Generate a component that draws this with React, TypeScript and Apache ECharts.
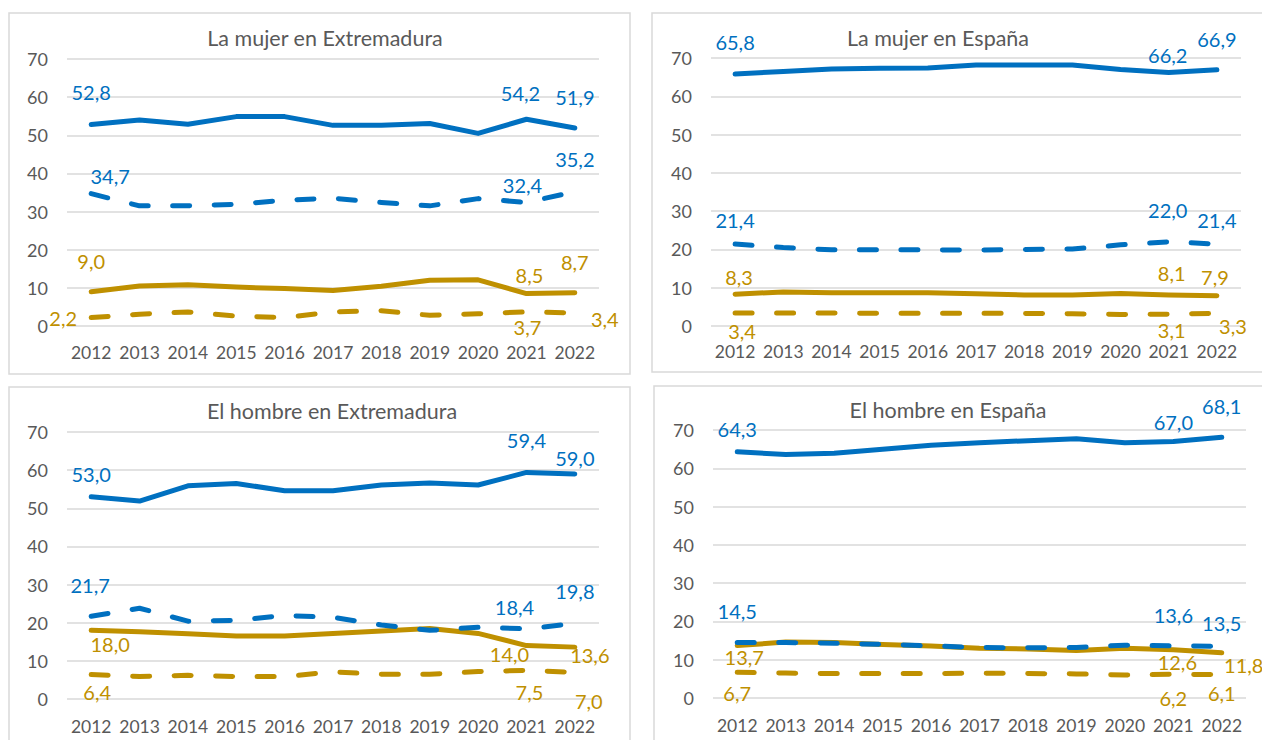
import React, { useEffect, useRef } from "react";
import * as echarts from "echarts";

// Categories
const years = ["2012", "2013", "2014", "2015", "2016", "2017", "2018", "2019", "2020", "2021", "2022"];
const yTicks = [0, 10, 20, 30, 40, 50, 60, 70];

// La mujer en Extremadura
const mujerExtAzulContinua = [52.8, 54.0, 52.9, 54.9, 54.9, 52.6, 52.6, 53.1, 50.5, 54.2, 51.9];
const mujerExtAzulDiscontinua = [34.7, 31.5, 31.5, 31.9, 33.0, 33.5, 32.4, 31.5, 33.4, 32.4, 35.2];
const mujerExtOroContinua = [9.0, 10.5, 10.8, 10.2, 9.8, 9.3, 10.4, 12.0, 12.1, 8.5, 8.7];
const mujerExtOroDiscontinua = [2.2, 3.1, 3.7, 2.6, 2.2, 3.7, 4.0, 2.8, 3.2, 3.7, 3.4];

// La mujer en España
const mujerEspAzulContinua = [65.8, 66.5, 67.1, 67.3, 67.4, 68.2, 68.2, 68.2, 67.0, 66.2, 66.9];
const mujerEspAzulDiscontinua = [21.4, 20.5, 19.9, 19.9, 19.9, 19.8, 20.0, 20.1, 21.2, 22.0, 21.4];
const mujerEspOroContinua = [8.3, 8.9, 8.7, 8.7, 8.7, 8.4, 8.1, 8.1, 8.5, 8.1, 7.9];
const mujerEspOroDiscontinua = [3.4, 3.4, 3.4, 3.3, 3.3, 3.3, 3.3, 3.2, 3.0, 3.1, 3.3];

// El hombre en Extremadura
const hombreExtAzulContinua = [53.0, 51.9, 55.9, 56.5, 54.6, 54.6, 56.1, 56.6, 56.1, 59.4, 59.0];
const hombreExtAzulDiscontinua = [21.7, 23.8, 20.4, 20.6, 21.9, 21.4, 19.4, 18.0, 18.8, 18.4, 19.8];
const hombreExtOroContinua = [18.0, 17.6, 17.1, 16.5, 16.5, 17.2, 17.8, 18.5, 17.2, 14.0, 13.6];
const hombreExtOroDiscontinua = [6.4, 5.9, 6.2, 5.9, 5.9, 7.1, 6.5, 6.5, 7.2, 7.5, 7.0];

// El hombre en España
const hombreEspAzulContinua = [64.3, 63.6, 63.9, 65.0, 66.0, 66.7, 67.2, 67.7, 66.7, 67.0, 68.1];
const hombreEspAzulDiscontinua = [14.5, 14.5, 14.3, 14.0, 13.6, 13.2, 13.1, 13.2, 13.8, 13.6, 13.5];
const hombreEspOroContinua = [13.7, 14.6, 14.5, 14.0, 13.6, 13.0, 12.8, 12.4, 13.0, 12.6, 11.8];
const hombreEspOroDiscontinua = [6.7, 6.5, 6.4, 6.4, 6.4, 6.5, 6.4, 6.3, 6.0, 6.2, 6.1];

const BLUE = "#0070C0";
const GOLD = "#BF9000";
const GREY = "#595959";
const GRID = "#D9D9D9";
const FONT = "Lato";

type LabelSpec = [number, number, number]; // index, dx, dy

interface PanelCfg {
  title: string;
  titleX: number;
  titleY: number;
  grid: { left: number; top: number; width: number; height: number };
  box: { x: number; y: number; w: number; h: number };
  xMargin: number;
  series: { values: number[]; color: string; dashed: boolean; labels: LabelSpec[] }[];
}

const panels: PanelCfg[] = [
  {
    title: "La mujer en Extremadura",
    titleX: 320,
    titleY: 33,
    grid: { left: 67, top: 59, width: 532, height: 267 },
    box: { x: 9, y: 13, w: 621, h: 361 },
    xMargin: 17,
    series: [
      { values: mujerExtOroDiscontinua, color: GOLD, dashed: true, labels: [[0, -28, 0], [9, 1, 15], [10, 30, 6]] },
      { values: mujerExtOroContinua, color: GOLD, dashed: false, labels: [[0, 0, -31], [9, 3, -19], [10, 0, -31]] },
      { values: mujerExtAzulDiscontinua, color: BLUE, dashed: true, labels: [[0, 19, -18], [9, -4, -17], [10, 0, -33]] },
      { values: mujerExtAzulContinua, color: BLUE, dashed: false, labels: [[0, 0, -33], [9, -6, -26], [10, 0, -31]] },
    ],
  },
  {
    title: "La mujer en España",
    titleX: 933,
    titleY: 33,
    grid: { left: 711, top: 58, width: 530, height: 268 },
    box: { x: 652, y: 13, w: 640, h: 359 },
    xMargin: 16,
    series: [
      { values: mujerEspOroDiscontinua, color: GOLD, dashed: true, labels: [[0, 7, 18], [9, 3, 16], [10, 16, 13]] },
      { values: mujerEspOroContinua, color: GOLD, dashed: false, labels: [[0, 4, -17], [9, 3, -22], [10, -2, -19]] },
      { values: mujerEspAzulDiscontinua, color: BLUE, dashed: true, labels: [[0, 0, -24], [9, -1, -32], [10, 0, -24]] },
      { values: mujerEspAzulContinua, color: BLUE, dashed: false, labels: [[0, 0, -32], [9, -1, -18], [10, 0, -31]] },
    ],
  },
  {
    title: "El hombre en Extremadura",
    titleX: 327,
    titleY: 406,
    grid: { left: 67, top: 432, width: 532, height: 267 },
    box: { x: 9, y: 387, w: 621, h: 400 },
    xMargin: 18,
    series: [
      { values: hombreExtOroDiscontinua, color: GOLD, dashed: true, labels: [[0, 6, 17], [9, 3, 22], [10, 14, 29]] },
      { values: hombreExtOroContinua, color: GOLD, dashed: false, labels: [[0, 19, 14], [9, -17, 8], [10, 15, 8]] },
      { values: hombreExtAzulDiscontinua, color: BLUE, dashed: true, labels: [[0, -1, -31], [9, -12, -22], [10, 0, -32]] },
      { values: hombreExtAzulContinua, color: BLUE, dashed: false, labels: [[0, 0, -23], [9, 0, -32], [10, 0, -16]] },
    ],
  },
  {
    title: "El hombre en España",
    titleX: 943,
    titleY: 405,
    grid: { left: 713, top: 430, width: 533, height: 268 },
    box: { x: 654, y: 386, w: 640, h: 400 },
    xMargin: 18,
    series: [
      { values: hombreEspOroDiscontinua, color: GOLD, dashed: true, labels: [[0, 0, 21], [9, 0, 24], [10, 0, 18]] },
      { values: hombreEspOroContinua, color: GOLD, dashed: false, labels: [[0, 7, 11], [9, 4, 12], [10, 22, 12]] },
      { values: hombreEspAzulDiscontinua, color: BLUE, dashed: true, labels: [[0, 0, -31], [9, 0, -31], [10, 0, -23]] },
      { values: hombreEspAzulContinua, color: BLUE, dashed: false, labels: [[0, 0, -23], [9, 0, -19], [10, 0, -31]] },
    ],
  },
];

const fmt = (v: number) => v.toFixed(1).replace(".", ",");

function buildOption() {
  const grids: any[] = [];
  const xAxes: any[] = [];
  const yAxes: any[] = [];
  const series: any[] = [];
  const titles: any[] = [];
  const graphics: any[] = [];

  panels.forEach((p, pi) => {
    grids.push({ ...p.grid, containLabel: false });
    xAxes.push({
      type: "category",
      gridIndex: pi,
      data: years,
      boundaryGap: true,
      axisLine: { show: false },
      axisTick: { show: false },
      axisLabel: { color: GREY, fontFamily: FONT, fontSize: 17.5, margin: p.xMargin, interval: 0, hideOverlap: false },
    });
    yAxes.push({
      type: "value",
      gridIndex: pi,
      min: yTicks[0],
      max: yTicks[yTicks.length - 1],
      interval: 10,
      axisLine: { show: false },
      axisTick: { show: false },
      axisLabel: { color: GREY, fontFamily: FONT, fontSize: 18, margin: 19 },
      splitLine: { lineStyle: { color: GRID, width: 1.5 } },
    });
    titles.push({
      text: p.title,
      left: p.titleX,
      top: p.titleY,
      textAlign: "center",
      textVerticalAlign: "middle",
      textStyle: { color: GREY, fontFamily: FONT, fontSize: 21.5, fontWeight: "normal" },
    });
    graphics.push({
      type: "rect",
      shape: { x: p.box.x, y: p.box.y, width: p.box.w, height: p.box.h },
      style: { fill: "none", stroke: GRID, lineWidth: 1.5 },
      silent: true,
      z: -10,
    });
    p.series.forEach((s) => {
      series.push({
        type: "line",
        xAxisIndex: pi,
        yAxisIndex: pi,
        symbol: "circle",
        symbolSize: 0,
        showSymbol: true,
        showAllSymbol: true,
        itemStyle: { color: s.color },
        lineStyle: {
          color: s.color,
          width: 5,
          type: s.dashed ? [17, 24.5] : "solid",
          cap: "round",
          join: "round",
        },
        data: s.values.map((v, i) => {
          const l = s.labels.find((x) => x[0] === i);
          if (!l) return v;
          return {
            value: v,
            label: {
              show: true,
              position: "inside",
              offset: [l[1], l[2]],
              formatter: () => fmt(v),
              color: s.color,
              fontFamily: FONT,
              fontSize: 20,
            },
          };
        }),
      });
    });
  });

  return {
    animation: false,
    backgroundColor: "#ffffff",
    title: titles,
    grid: grids,
    xAxis: xAxes,
    yAxis: yAxes,
    series,
    graphic: graphics,
  };
}

export default function App() {
  const ref = useRef<HTMLDivElement>(null);
  useEffect(() => {
    if (!ref.current) return;
    const chart = echarts.init(ref.current, undefined, { renderer: "svg" });
    chart.setOption(buildOption() as any);
    return () => chart.dispose();
  }, []);
  return (
    <div
      ref={ref}
      style={{ position: "fixed", left: 0, top: 0, width: 1262, height: 740, background: "#fff" }}
    />
  );
}
